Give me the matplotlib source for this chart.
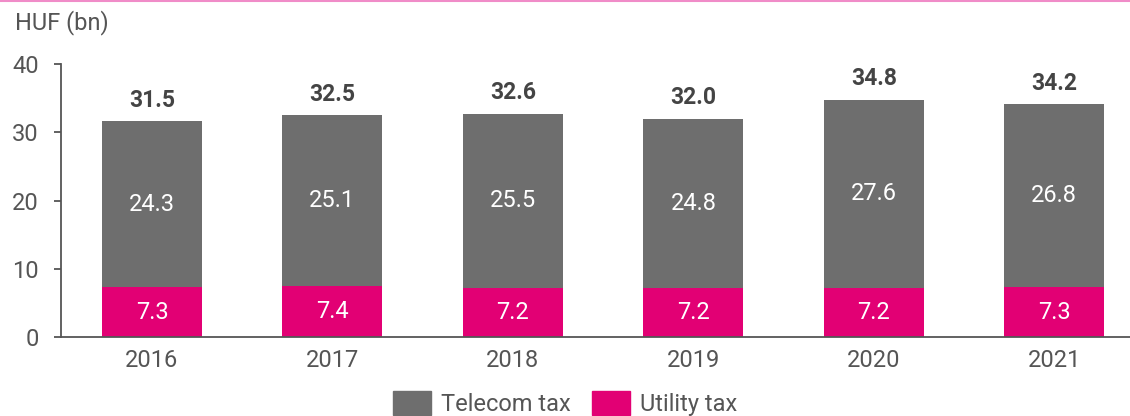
import numpy as np
import matplotlib
matplotlib.use("Agg")
import matplotlib.pyplot as plt
from matplotlib.lines import Line2D
from matplotlib.patches import Patch

years = ["2016", "2017", "2018", "2019", "2020", "2021"]
utility = [7.3, 7.4, 7.2, 7.2, 7.2, 7.3]
telecom = [24.3, 25.1, 25.5, 24.8, 27.6, 26.8]
totals = [31.5, 32.5, 32.6, 32.0, 34.8, 34.2]

gray = "#6e6e6e"
magenta = "#e20074"
txt = "#555555"
fs = 17

plt.rcParams["font.family"] = ["Roboto", "DejaVu Sans"]

fig = plt.figure(figsize=(11.3, 4.16), dpi=100)
ax = fig.add_axes([0.054, 0.19, 0.946, 0.656])

x = np.arange(len(years))
w = 0.554
ax.bar(x, utility, w, color=magenta, label="Utility tax", zorder=2)
ax.bar(x, telecom, w, bottom=utility, color=gray, label="Telecom tax", zorder=2)

for i in range(len(years)):
    ax.text(x[i], utility[i] / 2, f"{utility[i]:.1f}", ha="center", va="center",
            color="white", fontsize=fs)
    ax.text(x[i], utility[i] + telecom[i] / 2, f"{telecom[i]:.1f}", ha="center",
            va="center", color="white", fontsize=fs)
    ax.annotate(f"{totals[i]:.1f}", (x[i], utility[i] + telecom[i]), xytext=(0, 7),
                textcoords="offset points", ha="center", va="bottom",
                fontsize=fs - 0.5, fontweight="bold", color="#444444")

ax.set_ylim(0, 40)
ax.set_yticks([0, 10, 20, 30, 40])
ax.set_xlim(-0.504, 5.42)
ax.set_xticks(x)
ax.set_xticklabels(years)
ax.tick_params(axis="x", length=0, labelsize=fs, labelcolor=txt, pad=9)
ax.tick_params(axis="y", length=5, width=1.3, color=txt, labelsize=fs, labelcolor=txt, pad=11)
for s in ["top", "right"]:
    ax.spines[s].set_visible(False)
for s in ["left", "bottom"]:
    ax.spines[s].set_color(txt)
    ax.spines[s].set_linewidth(1.3)

fig.text(0.013, 0.945, "HUF (bn)", fontsize=fs, color=txt, ha="left", va="center")

handles = [Patch(color=gray), Patch(color=magenta)]
ax.legend(handles, ["Telecom tax", "Utility tax"], loc="center",
          bbox_to_anchor=(0.5, 0.03), bbox_transform=fig.transFigure,
          ncol=2, frameon=False, fontsize=fs, labelcolor=txt,
          handlelength=1.6, handleheight=1.15, handletextpad=0.42, columnspacing=0.93)

fig.add_artist(Line2D([0, 1], [0.998, 0.998], transform=fig.transFigure,
                      color="#f08cc8", linewidth=1.5))

fig.savefig("out.png", dpi=100)
